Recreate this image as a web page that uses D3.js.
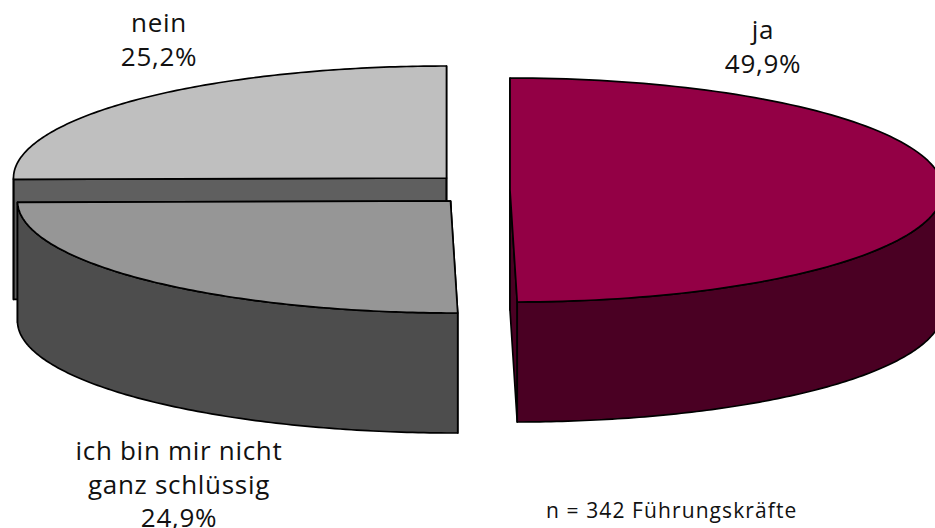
<!DOCTYPE html>
<html><head><meta charset="utf-8">
<script src="https://cdn.jsdelivr.net/npm/d3@7"></script>
<style>html,body{margin:0;padding:0;background:#fff}svg{display:block}text{font-family:"Open Sans",sans-serif;fill:#111}</style>
</head><body><svg id="c" width="935" height="528"></svg>
<script>
const categories = ["ja", "ich bin mir nicht ganz schlüssig", "nein"];
const shares = [49.9, 24.9, 25.2];
const shareLabels = ["49,9%", "24,9%", "25,2%"];
const labelLines = [["ja"], ["ich bin mir nicht", "ganz schlüssig"], ["nein"]];
const topColors = ["#930045", "#969696", "#bfbfbf"];
const sideColors = ["#4a0023", "#4d4d4d", "#5f5f5f"];
const note = "n = 342 Führungskräfte";

const W = 935, H = 528, rx = 433, ry = 112, depth = 120, lean = 4.5;
const centers = [[510, 190], [450.5, 201], [446.5, 178]];
const labelPos = [[763, 39], [179, 460], [159, 32]];
const lineGap = 33.5;

const svg = d3.select("#c");
const pie = d3.pie().sort(null).value(d => d).startAngle(0).endAngle(2 * Math.PI);
const arcs = pie(shares).map((a, i) => ({...a, i}));
const line = d3.line();

function pt(i, t, dz) {
  const [cx, cy] = centers[i];
  const c = Math.cos(t);
  return [cx + rx * Math.sin(t) + (c < 0 ? lean * c * c : 0), cy - ry * c + dz];
}
const sweep = (a, b, dz, i) => d3.range(0, 121).map(k => pt(i, a + (b - a) * k / 120, dz));

function drawSlice(a) {
  const i = a.i, c = centers[i], s = a.startAngle, e = a.endAngle;
  const g = svg.append("g").attr("stroke", "#000").attr("stroke-width", 1.7).attr("stroke-linejoin", "round");
  [s, e].forEach(t => {
    const p = pt(i, t, 0), q = pt(i, t, depth);
    g.append("path").attr("fill", sideColors[i])
      .attr("d", line([c, p, q, [c[0], c[1] + depth]]) + "Z");
  });
  const a0 = Math.max(s, Math.PI / 2), a1 = Math.min(e, 3 * Math.PI / 2);
  if (a1 > a0) {
    g.append("path").attr("fill", sideColors[i])
      .attr("d", line(sweep(a0, a1, 0, i).concat(sweep(a1, a0, depth, i))) + "Z");
  }
  g.append("path").attr("fill", topColors[i])
    .attr("d", line([c].concat(sweep(s, e, 0, i))) + "Z");
}
[2, 1, 0].forEach(i => drawSlice(arcs[i]));

categories.forEach((_, i) => {
  const lines = labelLines[i].concat(shareLabels[i]);
  svg.append("g").selectAll("text").data(lines).join("text")
    .attr("x", labelPos[i][0]).attr("y", (d, k) => labelPos[i][1] + k * lineGap)
    .attr("text-anchor", "middle").attr("font-size", 26)
    .attr("letter-spacing", 0.7).text(d => d);
});
svg.append("text").attr("x", 546).attr("y", 518).attr("font-size", 21)
  .attr("letter-spacing", 1.1).text(note);
</script></body></html>
